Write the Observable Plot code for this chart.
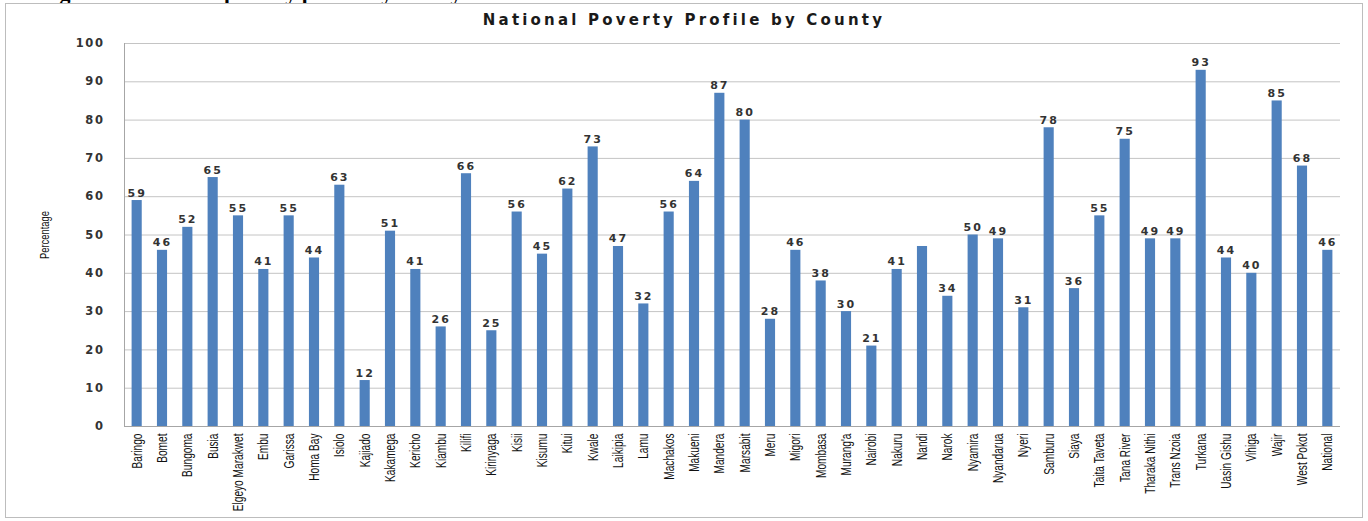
<!DOCTYPE html>
<html>
<head>
<meta charset="utf-8">
<script src="https://cdn.jsdelivr.net/npm/d3@7"></script>
<script src="https://cdn.jsdelivr.net/npm/@observablehq/plot@0.6"></script>
<style>
  html, body { margin: 0; padding: 0; background: #fff; width: 1368px; height: 521px; overflow: hidden; }
  #caption { position: absolute; left: 40px; top: -18px; font-family: "Liberation Serif", serif; font-weight: bold; font-size: 22px; line-height: 22px; color: #000; white-space: nowrap; }
  #box { position: absolute; left: 5px; top: 3px; width: 1358px; height: 515px; box-sizing: border-box; border: 1.5px solid #bdbdbd; background: #fff; }
  #title { height: 25px; box-sizing: border-box; padding-top: 7px; line-height: 18px; text-align: center; font-family: "DejaVu Sans", sans-serif; font-weight: bold; font-size: 15px; letter-spacing: 3.2px; color: #1a1a1a; }
  g[aria-label="y-axis tick label"] text { letter-spacing: 1.6px; }
  text.val { letter-spacing: 2px; }
</style>
</head>
<body>
<div id="caption">Figure 2.1: Overall poverty profile by county</div>
<div id="box">
  <div id="title">National Poverty Profile by County</div>
  <div id="chart"></div>
</div>
<script>
const counties = ["Baringo","Bomet","Bungoma","Busia","Elgeyo Marakwet","Embu","Garissa","Homa Bay","Isiolo","Kajiado","Kakamega","Kericho","Kiambu","Kilifi","Kirinyaga","Kisii","Kisumu","Kitui","Kwale","Laikipia","Lamu","Machakos","Makueni","Mandera","Marsabit","Meru","Migori","Mombasa","Murang'a","Nairobi","Nakuru","Nandi","Narok","Nyamira","Nyandarua","Nyeri","Samburu","Siaya","Taita Taveta","Tana River","Tharaka Nithi","Trans Nzoia","Turkana","Uasin Gishu","Vihiga","Wajir","West Pokot","National"];
const poverty = [59,46,52,65,55,41,55,44,63,12,51,41,26,66,25,56,45,62,73,47,32,56,64,87,80,28,46,38,30,21,41,47,34,50,49,31,78,36,55,75,49,49,93,44,40,85,68,46];
const unlabeled = ["Nandi"];
const yTicks = [0,10,20,30,40,50,60,70,80,90,100];
const yLabel = "Percentage";

const data = counties.map((c, i) => ({county: c, value: poverty[i]}));
const narrow = "Liberation Sans, Arial, sans-serif";

const chart = Plot.plot({
  width: 1355,
  height: 487,
  marginLeft: 118,
  marginRight: 21,
  marginTop: 14,
  marginBottom: 90,
  style: {fontFamily: "DejaVu Sans, sans-serif", background: "transparent", overflow: "visible"},
  x: {domain: counties, padding: 0, round: false, label: null},
  y: {domain: [0, 100], label: null},
  marks: [
    Plot.gridY(yTicks, {stroke: "#c4c4c4", strokeOpacity: 1, strokeWidth: 1}),
    Plot.barY(data, {x: "county", y: "value", fill: "#4f81bd", insetLeft: 7.6, insetRight: 7.6}),
    Plot.ruleY([0], {stroke: "#a6a6a6", strokeWidth: 1}),
    Plot.frame({anchor: "left", stroke: "#a6a6a6", strokeWidth: 1}),
    Plot.text(data.filter(d => !unlabeled.includes(d.county)), {
      x: "county", y: "value", text: d => String(d.value),
      lineAnchor: "bottom", dy: -4, fontSize: 11, fontWeight: "bold", fill: "#333"
    }),
    Plot.axisY(yTicks, {tickSize: 0, tickPadding: 20, fontSize: 11.5, fontWeight: "bold", fill: "#333", label: null}),
    Plot.axisX({tickSize: 0, tickRotate: -90, tickPadding: 7, fontSize: 14.5, fill: "#111", label: null,
      fontFamily: narrow}),
    Plot.text([yLabel], {frameAnchor: "left", textAnchor: "middle", rotate: -90, dx: -80, fontSize: 12.5, fill: "#111",
      fontFamily: narrow})
  ]
});
document.getElementById("chart").appendChild(chart);
chart.querySelectorAll('g[aria-label="text"] text').forEach(t => {
  if (/^\d+$/.test(t.textContent)) t.classList.add("val");
  else {
    const tr = t.getAttribute("transform") || "";
    t.setAttribute("transform", tr + " scale(0.75,1)");
  }
});
chart.querySelectorAll('g[aria-label="x-axis tick label"] text').forEach(t => {
  const tr = t.getAttribute("transform") || "";
  t.setAttribute("transform", tr + " scale(0.7,1)");
});
</script>
</body>
</html>
